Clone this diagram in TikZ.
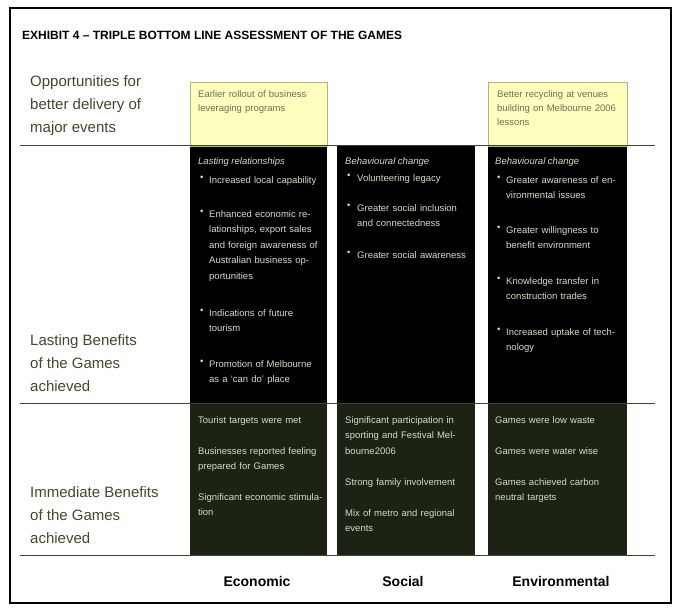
\documentclass[tikz,border=0pt]{standalone}
\usepackage{fontspec}
\setmainfont{Liberation Sans}
\definecolor{ylw}{HTML}{FFFFC0}
\definecolor{ygreen}{HTML}{A8C070}
\definecolor{lbl}{HTML}{3C4A2C}
\definecolor{txt}{HTML}{D8DCC4}
\definecolor{dgreen}{HTML}{1C2214}
\definecolor{ytxt}{HTML}{6A7050}
\tikzset{
 x=1pt,y=-1pt,
 rowlbl/.style={anchor=west,align=left,text=lbl,font=\fontsize{15}{23}\selectfont,inner sep=0},
 item/.style={anchor=north west,align=left,text=txt,text width=#1,font=\fontsize{9.5}{15.5}\selectfont,inner sep=0},
 item/.default=118pt,
 bul/.style={anchor=north west,text=txt,font=\fontsize{9.5}{15.5}\selectfont,inner sep=0},
 ytext/.style={anchor=north west,align=left,text=ytxt,text width=122pt,font=\fontsize{9.5}{14}\selectfont,inner sep=0},
 collbl/.style={font=\bfseries\fontsize{14}{16}\selectfont,text=black},
 sep/.style={draw=lbl,line width=1pt}
}
\begin{document}
\begin{tikzpicture}
\useasboundingbox (0,0) rectangle (685,609);
\draw[line width=2pt] (10,8) rectangle (671,603);
\node[anchor=west,font=\bfseries\fontsize{12}{14}\selectfont,inner sep=0] (title) at (22,35) {EXHIBIT 4 -- TRIPLE BOTTOM LINE ASSESSMENT OF THE GAMES};
% boxes
\foreach \xa/\xb/\n in {190/327/e,337/475/s,488/627/v}{
  \fill[black] (\xa,146) rectangle (\xb,403);
  \fill[dgreen] (\xa,403) rectangle (\xb,555);
}
\draw[ygreen,fill=ylw] (190,82) rectangle (327,146);
\draw[ygreen,fill=ylw] (488,82) rectangle (627,146);
\draw[sep] (20,146) -- (655,146);
\draw[sep] (20,403) -- (655,403);
\draw[sep] (20,555) -- (655,555);
% row labels
\node[rowlbl] (r1) at (30,106) {Opportunities for\\better delivery of\\major events};
\node[rowlbl] (r2) at (30,363) {Lasting Benefits\\of the Games\\achieved};
\node[rowlbl] (r3) at (30,515) {Immediate Benefits\\of the Games\\achieved};
% top yellow
\node[ytext] (ye) at (198,90) {Earlier rollout of business leveraging programs};
\node[ytext] (yv) at (497,90) {Better recycling at venues building on Melbourne 2006 lessons};
% economic lasting
\node[bul,font=\itshape\fontsize{9.5}{15.5}\selectfont] (eh) at (198,157) {Lasting relationships};
\foreach \y/\t [count=\i] in {176/Increased local capability,
 210/{Enhanced economic relationships, export sales and foreign awareness of Australian business opportunities},
 309/{Indications of future tourism},
 360/{Promotion of Melbourne as a `can do' place}}{
  \node[bul] (eb\i) at (200,\y) {\textbullet};
  \node[item=112pt] (ei\i) at (209,\y) {\t};
}
% social lasting
\node[bul,font=\itshape\fontsize{9.5}{15.5}\selectfont] (sh) at (345,157) {Behavioural change};
\foreach \y/\t [count=\i] in {174/Volunteering legacy,
 204/{Greater social inclusion and connectedness},
 251/{Greater social awareness}}{
  \node[bul] (sb\i) at (347,\y) {\textbullet};
  \node[item=110pt] (si\i) at (357,\y) {\t};
}
% env lasting
\node[bul,font=\itshape\fontsize{9.5}{15.5}\selectfont] (vh) at (495,157) {Behavioural change};
\foreach \y/\t [count=\i] in {176/{Greater awareness of environmental issues},
 226/{Greater willingness to benefit environment},
 277/{Knowledge transfer in construction trades},
 328/{Increased uptake of technology}}{
  \node[bul] (vb\i) at (497,\y) {\textbullet};
  \node[item=112pt] (vi\i) at (506,\y) {\t};
}
% immediate
\foreach \y/\t [count=\i] in {416/Tourist targets were met,
 447/{Businesses reported feeling prepared for Games},
 493/{Significant economic stimulation}}{
  \node[item=128pt] (ii\i) at (198,\y) {\t};
}
\foreach \y/\t [count=\i] in {416/{Significant participation in sporting and Festival Melbourne2006},
 478/{Strong family involvement},
 509/{Mix of metro and regional events}}{
  \node[item=128pt] (is\i) at (345,\y) {\t};
}
\foreach \y/\t [count=\i] in {416/{Games were low waste},
 447/{Games were water wise},
 478/{Games achieved carbon neutral targets}}{
  \node[item=125pt] (iv\i) at (495,\y) {\t};
}
% column labels
\node[collbl] (ce) at (257,581) {Economic};
\node[collbl] (cs) at (403,581) {Social};
\node[collbl] (cv) at (561,581) {Environmental};
\end{tikzpicture}
\end{document}
